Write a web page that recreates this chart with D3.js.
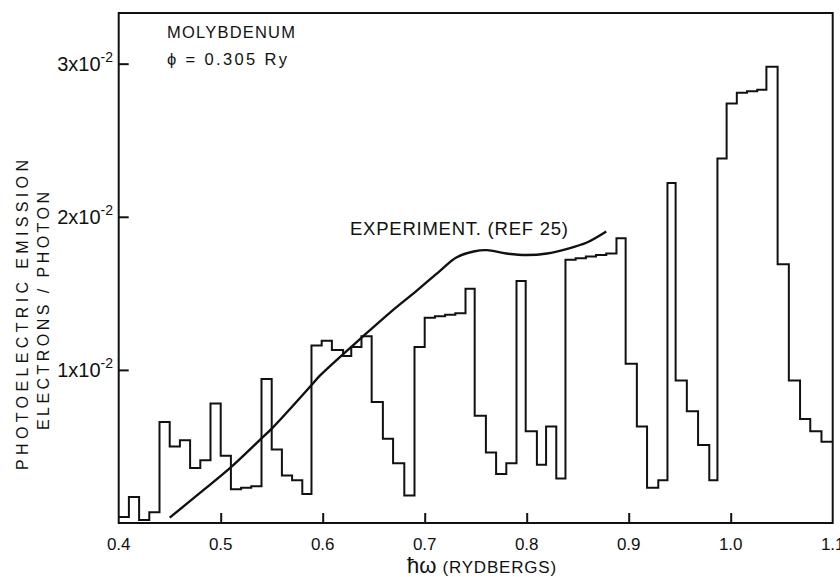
<!DOCTYPE html>
<html>
<head>
<meta charset="utf-8">
<script src="https://cdn.jsdelivr.net/npm/d3@7/dist/d3.min.js"></script>
<style>
  html, body { margin: 0; padding: 0; background: #fff; }
  svg { display: block; font-family: "Liberation Sans", Arial, sans-serif; }
</style>
</head>
<body>
<svg id="chart" width="840" height="577"></svg>
<script>
// ---- data ----
const binStarts = [0.400,0.410,0.420,0.430,0.440,0.450,0.460,0.470,0.480,0.490,
  0.500,0.510,0.520,0.530,0.540,0.550,0.560,0.570,0.580,0.589,
  0.599,0.609,0.620,0.628,0.638,0.648,0.659,0.669,0.680,0.690,
  0.700,0.710,0.720,0.730,0.740,0.749,0.760,0.770,0.780,0.790,
  0.799,0.810,0.819,0.829,0.838,0.848,0.858,0.868,0.878,0.888,
  0.897,0.908,0.918,0.929,0.938,0.946,0.957,0.968,0.979,0.987,
  0.996,1.006,1.016,1.026,1.035,1.046,1.057,1.068,1.078,1.089];
const binEnd = 1.100;
const theoryValues = [0.0004,0.0017,0.0002,0.0007,0.0066,0.0050,0.0054,0.0036,0.0041,0.0078,
  0.0044,0.0022,0.0023,0.0024,0.0094,0.0048,0.0031,0.0028,0.0019,0.0116,
  0.0119,0.0113,0.0109,0.0115,0.0122,0.0079,0.0055,0.0039,0.0018,0.0115,
  0.0134,0.0135,0.0136,0.0137,0.0153,0.0070,0.0046,0.0032,0.0039,0.0158,
  0.0060,0.0038,0.0063,0.0029,0.0172,0.0173,0.0174,0.0175,0.0176,0.0186,
  0.0104,0.0063,0.0023,0.0028,0.0222,0.0093,0.0073,0.0051,0.0028,0.0238,
  0.0274,0.0281,0.0282,0.0283,0.0298,0.0169,0.0093,0.0068,0.0060,0.0053];

const expEnergy = [0.450,0.480,0.509,0.538,0.551,0.590,0.597,0.640,0.668,0.692,
  0.715,0.731,0.748,0.761,0.780,0.800,0.820,0.839,0.859,0.878];
const expValues = [0.00035,0.00198,0.00358,0.0054,0.00623,0.00908,0.00961,0.01222,0.01386,0.01516,
  0.01647,0.01734,0.01773,0.01782,0.0176,0.0175,0.0176,0.01789,0.01832,0.01904];

const xTicks = [0.4,0.5,0.6,0.7,0.8,0.9,1.0,1.1];
const xTickLabels = ["0.4","0.5","0.6","0.7","0.8","0.9","1.0","1.1"];
const yTicks = [0.01,0.02,0.03];
const yTickMantissa = ["1","2","3"];

// ---- scales ----
const svg = d3.select("#chart");
const x = d3.scaleLinear().domain([0.4, 1.1]).range([118.7, 832.7]);
const y = d3.scaleLinear().domain([0, 0.03331]).range([523, 13]);

// ---- histogram (step line) ----
const stepPts = [];
binStarts.forEach((s, i) => {
  const e = i < binStarts.length - 1 ? binStarts[i + 1] : binEnd;
  stepPts.push([s, theoryValues[i]]);
  stepPts.push([e, theoryValues[i]]);
});
const line = d3.line().x(d => x(d[0])).y(d => y(d[1]));
svg.append("path")
  .attr("d", line(stepPts))
  .attr("fill", "none").attr("stroke", "#111").attr("stroke-width", 2)
  .attr("stroke-linejoin", "miter");

// ---- experiment curve ----
const curve = d3.line().x(d => x(d[0])).y(d => y(d[1])).curve(d3.curveCatmullRom.alpha(0.5));
svg.append("path")
  .attr("d", curve(expEnergy.map((e, i) => [e, expValues[i]])))
  .attr("fill", "none").attr("stroke", "#111").attr("stroke-width", 2.4);

// ---- frame ----
svg.append("rect")
  .attr("x", x(0.4)).attr("y", y(0.03331))
  .attr("width", x(1.1) - x(0.4)).attr("height", y(0) - y(0.03331))
  .attr("fill", "none").attr("stroke", "#111").attr("stroke-width", 2);

// ---- axes (inside ticks) ----
const xAxis = d3.axisTop(x).tickValues(xTicks.slice(1, -1)).tickSize(10).tickFormat("");
const gx = svg.append("g").attr("transform", `translate(0,${y(0)})`).call(xAxis);
gx.select(".domain").remove();
gx.selectAll("line").attr("stroke", "#111").attr("stroke-width", 2);

const yAxis = d3.axisRight(y).tickValues(yTicks).tickSize(10).tickFormat("");
const gy = svg.append("g").attr("transform", `translate(${x(0.4)},0)`).call(yAxis);
gy.select(".domain").remove();
gy.selectAll("line").attr("stroke", "#111").attr("stroke-width", 2);

// x tick labels
svg.append("g").selectAll("text").data(xTicks).join("text")
  .attr("x", d => x(d)).attr("y", 550)
  .attr("text-anchor", "middle").attr("font-size", 17).attr("fill", "#111")
  .text((d, i) => xTickLabels[i]);

// y tick labels
const yl = svg.append("g").selectAll("text").data(yTicks).join("text")
  .attr("x", 113).attr("y", d => y(d) + 7)
  .attr("text-anchor", "end").attr("font-size", 20).attr("fill", "#111");
yl.each(function(d, i) {
  const t = d3.select(this);
  t.append("tspan").text(yTickMantissa[i] + "x10");
  t.append("tspan").attr("dy", -9).attr("font-size", 14).text("-2");
});

// axis titles
const xt = svg.append("text").attr("x", 482).attr("y", 573)
  .attr("text-anchor", "middle").attr("fill", "#111");
xt.append("tspan").attr("font-size", 22).text("ħω");
xt.append("tspan").attr("font-size", 17).attr("dx", 6).attr("letter-spacing", 0.8).text("(RYDBERGS)");

svg.append("text")
  .attr("transform", "translate(28,315) rotate(-90)")
  .attr("text-anchor", "middle").attr("font-size", 16).attr("fill", "#111")
  .attr("textLength", 310).attr("lengthAdjust", "spacing")
  .text("PHOTOELECTRIC EMISSION");
svg.append("text")
  .attr("transform", "translate(49,311) rotate(-90)")
  .attr("text-anchor", "middle").attr("font-size", 16).attr("fill", "#111")
  .attr("textLength", 238).attr("lengthAdjust", "spacing")
  .text("ELECTRONS / PHOTON");

// annotations
svg.append("text").attr("x", 167).attr("y", 38).attr("font-size", 16.5).attr("fill", "#111")
  .attr("textLength", 128).attr("lengthAdjust", "spacing")
  .text("MOLYBDENUM");
svg.append("text").attr("x", 167).attr("y", 65).attr("font-size", 16.5).attr("fill", "#111")
  .attr("textLength", 120).attr("lengthAdjust", "spacing")
  .text("ϕ = 0.305 Ry");
svg.append("text").attr("x", 350).attr("y", 235).attr("font-size", 18.5).attr("fill", "#111")
  .attr("textLength", 218).attr("lengthAdjust", "spacing")
  .text("EXPERIMENT. (REF 25)");
</script>
</body>
</html>
